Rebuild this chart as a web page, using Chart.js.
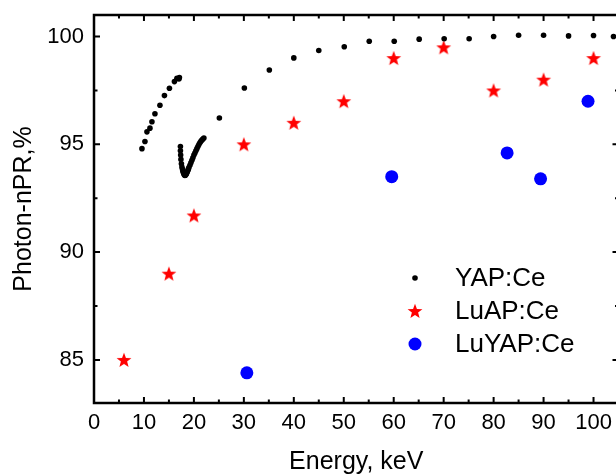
<!DOCTYPE html>
<html>
<head>
<meta charset="utf-8">
<script src="https://cdn.jsdelivr.net/npm/chart.js@4.4.1/dist/chart.umd.min.js"></script>
<style>
  html, body { margin: 0; padding: 0; overflow: hidden; background: #fff; }
  #wrap { width: 625px; height: 475px; }
</style>
</head>
<body>
<div id="wrap"><canvas id="myChart" width="625" height="475"></canvas></div>
<script>
// YAP:Ce - dense scan near the K-edge plus a sparse run up to 105 keV
var yapEnergy = [9.6, 10.2, 10.6, 11.2, 11.6, 12.2, 13.2, 14.1, 15.1, 16.1, 16.6, 17.0, 17.1,
  17.3, 17.3, 17.35, 17.4, 17.5, 17.6, 17.7, 17.8, 17.9, 18.0, 18.1, 18.2, 18.3, 18.4, 18.5,
  18.6, 18.7, 18.8, 18.9, 19.0, 19.2, 19.4, 19.6, 19.8, 20.0, 20.2, 20.4, 20.6, 20.8, 21.0,
  21.2, 21.4, 21.6, 21.8, 22.0,
  25.1, 30.1, 35.1, 40, 45, 50.1, 55.1, 60.1, 65.1, 70.1, 75.1, 80, 85, 90, 95, 100, 104];
var yapNpr = [94.8, 95.13, 95.58, 95.75, 96.05, 96.42, 96.81, 97.26, 97.6, 97.91, 98.06, 98.03, 98.1,
  94.9, 94.7, 94.5, 94.3, 94.1, 93.95, 93.85, 93.75, 93.68, 93.62, 93.58, 93.56, 93.57, 93.6, 93.64,
  93.69, 93.74, 93.8, 93.86, 93.92, 94.03, 94.14, 94.26, 94.38, 94.5, 94.6, 94.7, 94.8, 94.9, 94.99,
  95.07, 95.14, 95.2, 95.25, 95.29,
  96.22, 97.61, 98.45, 99.01, 99.35, 99.53, 99.78, 99.78, 99.88, 99.9, 99.9, 100.0, 100.06, 100.06, 100.03, 100.05, 100.0];

// LuAP:Ce
var luapEnergy = [6, 15, 20, 30, 40, 50, 60, 70, 80, 90, 100];
var luapNpr = [85, 89, 91.7, 95, 96, 97, 99, 99.5, 97.5, 98, 99];

// LuYAP:Ce
var luyapEnergy = [30.6, 59.6, 82.7, 89.4, 98.9];
var luyapNpr = [84.4, 93.5, 94.6, 93.4, 97.0];

// tick labels
var xTicks = [0, 10, 20, 30, 40, 50, 60, 70, 80, 90, 100];
var yTicks = [85, 90, 95, 100];

var FONT = "'Liberation Sans', Arial, sans-serif";

function toPoints(xs, ys) {
  return xs.map(function (v, i) { return { x: v, y: ys[i] }; });
}

// filled five pointed star for the LuAP markers
function makeStar(r, color) {
  var c = document.createElement('canvas');
  var s = Math.ceil(r * 2) + 2;
  c.width = s; c.height = s;
  var g = c.getContext('2d');
  g.fillStyle = color;
  g.beginPath();
  for (var i = 0; i < 10; i++) {
    var a = -Math.PI / 2 + i * Math.PI / 5;
    var rr = i % 2 ? r * 0.42 : r;
    var px = s / 2 + rr * Math.cos(a), py = s / 2 + 0.6 + rr * Math.sin(a);
    if (i === 0) g.moveTo(px, py); else g.lineTo(px, py);
  }
  g.closePath();
  g.fill();
  return c;
}
var starImg = makeStar(7.8, '#ff0000');

// frame with inward ticks, and the legend inside the plot
var framePlugin = {
  id: 'frame',
  afterDraw: function (chart) {
    var ctx = chart.ctx, a = chart.chartArea;
    var x = chart.scales.x, y = chart.scales.y;
    ctx.save();
    ctx.strokeStyle = '#000';
    ctx.lineWidth = 2.5;
    ctx.strokeRect(a.left, a.top, a.right - a.left, a.bottom - a.top);
    ctx.lineWidth = 2;
    ctx.beginPath();
    for (var v = 0; v <= 105; v += 5) {
      var px = x.getPixelForValue(v);
      var len = v % 10 === 0 ? 6 : 3.5;
      ctx.moveTo(px, a.bottom); ctx.lineTo(px, a.bottom - len);
      ctx.moveTo(px, a.top); ctx.lineTo(px, a.top + len);
    }
    for (var w = 85; w <= 100; w += 2.5) {
      var py = y.getPixelForValue(w);
      var l2 = w % 5 === 0 ? 6 : 3.5;
      ctx.moveTo(a.left, py); ctx.lineTo(a.left + l2, py);
      ctx.moveTo(a.right, py); ctx.lineTo(a.right - l2, py);
    }
    ctx.stroke();

    // legend
    var rows = [278, 311, 344];
    var mx = 415;
    ctx.font = '26px ' + FONT;
    ctx.textBaseline = 'middle';
    ctx.textAlign = 'left';
    chart.data.datasets.forEach(function (ds, i) {
      var cy = rows[i];
      if (ds.pointStyle === starImg) {
        ctx.drawImage(starImg, mx - starImg.width / 2, cy - starImg.height / 2);
      } else {
        ctx.fillStyle = ds.backgroundColor;
        ctx.beginPath();
        ctx.arc(mx, cy, ds.pointRadius, 0, Math.PI * 2);
        ctx.fill();
      }
      ctx.fillStyle = '#000';
      ctx.fillText(ds.label, 455, cy + 1);
    });
    ctx.restore();
  }
};

var ctx = document.getElementById('myChart').getContext('2d');

var myChart = new Chart(ctx, {
  type: 'scatter',
  data: {
    datasets: [{
      label: 'YAP:Ce',
      data: toPoints(yapEnergy, yapNpr),
      backgroundColor: '#000',
      borderWidth: 0,
      pointRadius: 2.8
    }, {
      label: 'LuAP:Ce',
      data: toPoints(luapEnergy, luapNpr),
      pointStyle: starImg,
      backgroundColor: '#ff0000'
    }, {
      label: 'LuYAP:Ce',
      data: toPoints(luyapEnergy, luyapNpr),
      backgroundColor: '#0000ff',
      borderWidth: 0,
      pointRadius: 6.5
    }]
  },
  options: {
    responsive: false,
    animation: false,
    layout: { padding: { top: 15, right: 4, left: 0, bottom: 0 } },
    plugins: {
      legend: { display: false },
      tooltip: { enabled: false }
    },
    scales: {
      x: {
        type: 'linear',
        min: 0,
        max: 105,
        afterBuildTicks: function (s) { s.ticks = xTicks.map(function (v) { return { value: v }; }); },
        afterFit: function (s) { s.height = 72; s.paddingLeft = 0; s.paddingRight = 0; },
        grid: { display: false, drawTicks: false },
        border: { display: false },
        ticks: { color: '#000', font: { family: FONT, size: 22 }, padding: 7, maxRotation: 0 },
        title: {
          display: true,
          text: 'Energy, keV',
          color: '#000',
          font: { family: FONT, size: 25, lineHeight: 1.0 },
          padding: { top: 0, bottom: 0 }
        }
      },
      y: {
        min: 83,
        max: 101,
        afterBuildTicks: function (s) { s.ticks = yTicks.map(function (v) { return { value: v }; }); },
        afterFit: function (s) { s.width = 94; s.paddingTop = 0; s.paddingBottom = 0; },
        grid: { display: false, drawTicks: false },
        border: { display: false },
        ticks: { color: '#000', font: { family: FONT, size: 22 }, padding: 10 },
        title: {
          display: true,
          text: 'Photon-nPR,%',
          color: '#000',
          font: { family: FONT, size: 25 },
          padding: { top: 9, bottom: 0 }
        }
      }
    }
  },
  plugins: [framePlugin]
});
</script>
</body>
</html>
